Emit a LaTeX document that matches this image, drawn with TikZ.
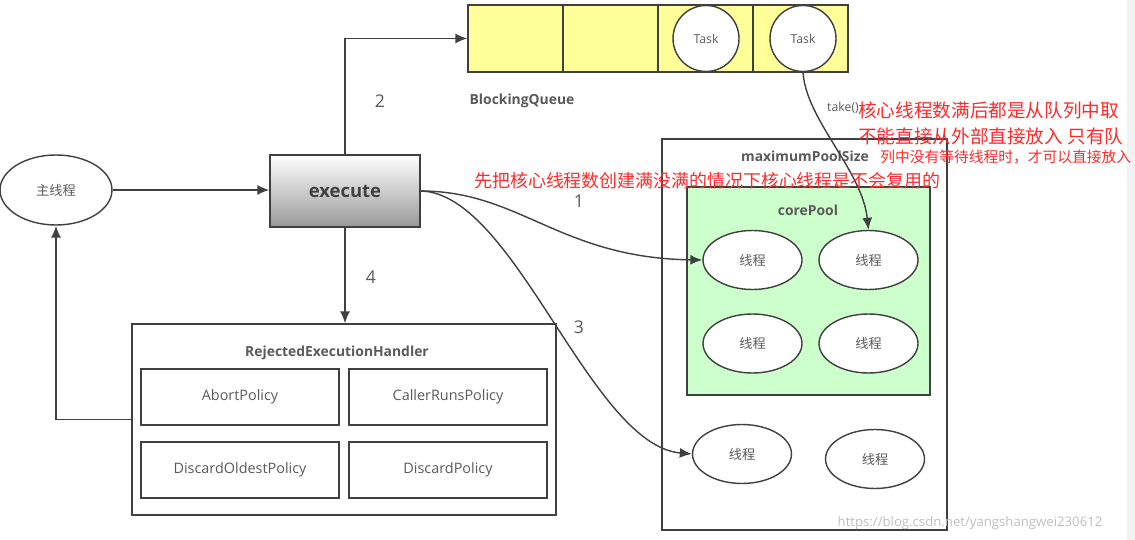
\documentclass[tikz,border=0pt]{standalone}
\usepackage{fontspec}
\setmainfont{Open Sans}
\newfontfamily\cjk{Noto Sans CJK SC}
\usetikzlibrary{arrows.meta}
\usetikzlibrary{shapes.geometric}
\definecolor{linegray}{HTML}{404040}
\definecolor{textgray}{HTML}{5A5A5A}
\definecolor{queueyellow}{HTML}{FFFF99}
\definecolor{poolgreen}{HTML}{CCFFCC}
\definecolor{notered}{HTML}{FF2A2A}

\begin{document}
\begin{tikzpicture}[x=0.02cm, y=-0.02cm,
  every node/.style={text=textgray, font=\fontsize{7.5}{9}\selectfont},
  frame/.style={draw=linegray, line width=0.8pt, inner sep=0},
  thread/.style={frame, ellipse, fill=white, minimum width=1.98cm, minimum height=1.18cm, font=\cjk\fontsize{7.5}{9}\selectfont},
  policy/.style={frame, minimum width=3.96cm, minimum height=1.12cm, font=\fontsize{8.2}{10}\selectfont},
  boldlabel/.style={font=\bfseries\fontsize{7.9}{9}\selectfont},
  num/.style={font=\fontsize{10}{12}\selectfont},
  redtext/.style={text=notered, font=\cjk\fontsize{10.6}{12}\selectfont, inner sep=0, anchor=west},
  flow/.style={draw=linegray, line width=0.8pt, -{Latex[length=2.4mm, width=2mm]}}
]
\useasboundingbox (0,0) rectangle (1135,540);
\fill[black!5] (1127,0) rectangle (1135,540);

% queue
\foreach \i in {1,...,4}
  \node[frame, fill=queueyellow, minimum width=1.9cm, minimum height=1.34cm] (q\i) at ({468+95*(\i-0.5)},38.5) {};
\node[frame, circle, fill=white, minimum size=1.32cm, font=\fontsize{7}{8}\selectfont] (task1) at (706,38.5) {Task};
\node[frame, circle, fill=white, minimum size=1.32cm, font=\fontsize{7}{8}\selectfont] (task2) at (803,38.5) {Task};
\node[boldlabel] (queuename) at (522,101) {BlockingQueue};

% caller and execute
\node[thread, minimum width=2.24cm, minimum height=1.4cm] (main) at (56,190) {主线程};
\node[frame, top color=white, bottom color=black!40, minimum width=3cm, minimum height=1.44cm,
  font=\bfseries\fontsize{10.5}{12}\selectfont, text=black!75] (exec) at (345,191) {execute};

% rejection handler
\node[frame, minimum width=8.48cm, minimum height=3.82cm] (rej) at (344,419.5) {};
\node[boldlabel] (rejname) at (337,353) {RejectedExecutionHandler};
\node[policy] (abort) at (240,397) {AbortPolicy};
\node[policy] (caller) at (448,397) {CallerRunsPolicy};
\node[policy] (oldest) at (240,470) {DiscardOldestPolicy};
\node[policy] (discard) at (448,470) {DiscardPolicy};

% pools
\node[frame, minimum width=5.7cm, minimum height=7.82cm] (maxpool) at (804.5,334.5) {};
\node[boldlabel] (maxname) at (805,156) {maximumPoolSize};
\node[frame, fill=poolgreen, minimum width=4.86cm, minimum height=4.16cm] (core) at (808.5,291) {};
\node[boldlabel] (corename) at (808,210) {corePool};
\node[thread] (e1) at (752.5,260) {线程};
\node[thread] (e2) at (868.5,260) {线程};
\node[thread] (e3) at (752.5,343.5) {线程};
\node[thread] (e4) at (868.5,343.5) {线程};
\node[thread] (e5) at (742,454) {线程};
\node[thread] (e6) at (875,459) {线程};

% connectors
\draw[flow] (main.east) -- (main.east -| exec.west);
\draw[flow] (exec.north) |- (q1.west);
\draw[flow] (exec.south) -- (exec.south |- rej.north);
\draw[flow] (rej.west) -| (main.south);
\draw[flow] (exec.east) .. controls (520,191) and (560,258) .. (e1.west);
\draw[flow] (exec.east) .. controls (515,193) and (590,445) .. (e5.west);
\draw[flow] (task2.south) .. controls (806,120) and (862,170) .. (e2.north);

\node[num] (n1) at (579,201) {1};
\node[num] (n2) at (380,101) {2};
\node[num] (n3) at (579,327) {3};
\node[num] (n4) at (371,277) {4};
\node[font=\fontsize{7}{8}\selectfont] (take) at (843,108) {take()};

% notes
\node[redtext] (note1) at (858,110) {核心线程数满后都是从队列中取};
\node[redtext] (note2) at (858,136) {不能直接从外部直接放入 只有队};
\node[redtext, font=\cjk\fontsize{8.4}{10}\selectfont] (note3) at (880,157) {列中没有等待线程时，才可以直接放入};
\node[redtext, font=\cjk\fontsize{10.2}{12}\selectfont] (note4) at (474,181) {先把核心线程数创建满没满的情况下核心线程是不会复用的};

\node[text=black!25] (mark) at (970,523) {https://blog.csdn.net/yangshangwei230612};
\end{tikzpicture}
\end{document}
